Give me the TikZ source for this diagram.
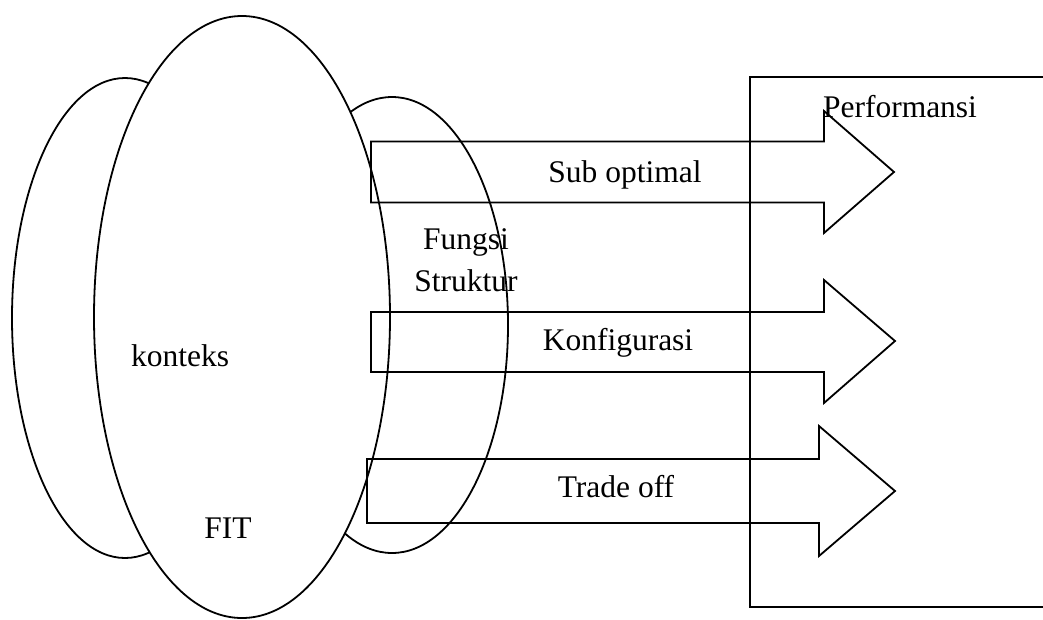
\documentclass[tikz,border=0pt]{standalone}
\usepackage{fontspec}
\setmainfont{Liberation Serif}
\usetikzlibrary{shapes.geometric}
\begin{document}
\begin{tikzpicture}[x=1pt,y=-1pt,
  every path/.style={line width=1.8pt},
  oval/.style={draw, ellipse, inner sep=0pt},
  bigarrow/.style={draw, line join=miter},
  lbl/.style={anchor=base, inner sep=0pt, font=\fontsize{31.5}{36}\selectfont}]
\useasboundingbox (0,0) rectangle (1043,619);
% ellipses
\node[oval, minimum width=226pt, minimum height=480pt] (ctx) at (125,318) {};
\node[oval, minimum width=232pt, minimum height=456pt] (fs) at (392,325) {};
\node[oval, fill=white, minimum width=296pt, minimum height=602pt] (fit) at (242,317) {};
% performance box (open to the right)
\draw (1046,77) -- (750,77) -- (750,607) -- (1046,607);
\coordinate (perf) at (750,342);
% arrows
\draw[bigarrow] (371,141.5) -- (824,141.5) -- (824,111) -- (894,172) -- (824,233) -- (824,202.5) -- (371,202.5) -- cycle;
\draw[bigarrow] (371,312) -- (824,312) -- (824,280) -- (895,341) -- (824,403) -- (824,372) -- (371,372) -- cycle;
\draw[bigarrow] (367,459) -- (819,459) -- (819,426) -- (895,491) -- (819,556) -- (819,523) -- (367,523) -- cycle;
% labels
\node[lbl] (t1) at (180,366) {konteks};
\node[lbl] (t2) at (228,538) {FIT};
\node[lbl] (t3) at (466,249) {Fungsi};
\node[lbl] (t4) at (466,291) {Struktur};
\node[lbl] (t5) at (625,182) {Sub optimal};
\node[lbl] (t6) at (618,350) {Konfigurasi};
\node[lbl] (t7) at (616,497) {Trade off};
\node[lbl] (t8) at (900,117) {Performansi};
\end{tikzpicture}
\end{document}
